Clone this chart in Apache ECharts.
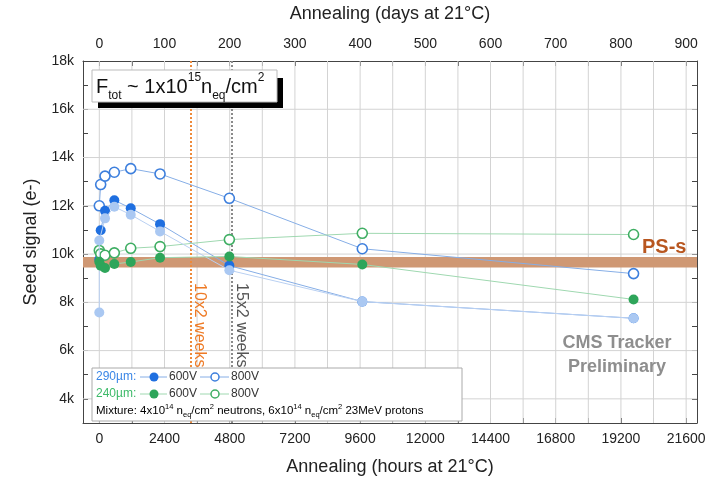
<!DOCTYPE html>
<html>
<head>
<meta charset="utf-8">
<script src="https://cdn.jsdelivr.net/npm/echarts@6/dist/echarts.min.js"></script>
<style>
html, body { margin: 0; padding: 0; background: #fff; }
#main { width: 720px; height: 481px; }
</style>
</head>
<body>
<div id="main"></div>
<script>
// annealing times (hours at 21C)
var hours = [0, 51, 210, 553, 1157, 2236, 4787, 9680, 19665];
var hoursLight = [0, 0, 210, 553, 1157, 2236, 4787, 9680, 19665];

// seed signal (e-)
var blue600 = [9770, 10990, 11790, 12230, 11900, 11240, 9520, 8030, 7340];
var blue600b = [7580, 10560, 11480, 11960, 11630, 10940, 9330, 8030, 7340];
var blue800 = [12000, 12880, 13230, 13390, 13540, 13320, 12310, 10220, 9190];
var green600 = [9680, 9520, 9420, 9590, 9670, 9850, 9900, 9570, 8120];
var green800 = [10150, 10010, 9950, 10050, 10240, 10310, 10600, 10860, 10810];

// PS-s band and reference lines
var psBand = [9440, 9880];
var weeks10 = 3360;
var weeks15 = 4870;

// ticks
var hourTicks = [0, 1200, 2400, 3600, 4800, 6000, 7200, 8400, 9600, 10800, 12000, 13200, 14400, 15600, 16800, 18000, 19200, 20400, 21600];
var hourLabels = [0, 2400, 4800, 7200, 9600, 12000, 14400, 16800, 19200, 21600];
var dayTicks = [0, 50, 100, 150, 200, 250, 300, 350, 400, 450, 500, 550, 600, 650, 700, 750, 800, 850, 900];
var dayLabels = [0, 100, 200, 300, 400, 500, 600, 700, 800, 900];
var gridLinesY = [4000, 6000, 8000, 10000, 12000, 14000, 16000];

var FONT = 'Liberation Sans, Arial, sans-serif';

function pairs(xs, ys) {
    var out = [];
    for (var i = 0; i < xs.length; i++) {
        out.push([xs[i], ys[i]]);
    }
    return out;
}

var vGrid = hourTicks.map(function (h) { return [h, 3000]; });
var hGrid = gridLinesY.map(function (v) { return [0, v]; });

// grid lines drawn by a custom series, one line per value
function gridLine(vertical) {
    return function (params, api) {
        var cs = params.coordSys;
        var p = api.coord([api.value(0), api.value(1)]);
        var shape = vertical
            ? { x1: p[0], y1: cs.y, x2: p[0], y2: cs.y + cs.height }
            : { x1: cs.x, y1: p[1], x2: cs.x + cs.width, y2: p[1] };
        return {
            type: 'line',
            shape: shape,
            style: { stroke: '#d3d3d3', lineWidth: 1 },
            silent: true
        };
    };
}

var chart = echarts.init(document.getElementById('main'));

var lineBlue = '#86aee6';
var lineGreen = '#9fd8b0';
var plain = function (v) { return String(v); };
var frame = { show: true, onZero: false, lineStyle: { color: '#444' } };

var option = {
    animation: false,
    grid: { left: 83, right: 23, top: 61, bottom: 54 },
    xAxis: [{
        type: 'value',
        min: -600,
        max: 22000,
        position: 'bottom',
        name: 'Annealing (hours at 21°C)',
        nameLocation: 'middle',
        nameGap: 35,
        nameTextStyle: { fontFamily: FONT, fontSize: 18, color: '#222' },
        axisLine: frame,
        axisTick: { show: true, inside: true, length: 5, customValues: hourTicks, lineStyle: { color: '#444' } },
        axisLabel: { customValues: hourLabels, formatter: plain, margin: 9, fontFamily: FONT, fontSize: 14, color: '#222' },
        splitLine: { show: false }
    }, {
        type: 'value',
        min: -25,
        max: 22000 / 24,
        position: 'top',
        name: 'Annealing (days at 21°C)',
        nameLocation: 'middle',
        nameGap: 38,
        nameTextStyle: { fontFamily: FONT, fontSize: 18, color: '#222' },
        axisLine: frame,
        axisTick: { show: true, inside: true, length: 5, customValues: dayTicks, lineStyle: { color: '#444' } },
        axisLabel: { customValues: dayLabels, formatter: plain, margin: 10, fontFamily: FONT, fontSize: 14, color: '#222' },
        splitLine: { show: false }
    }],
    yAxis: [{
        type: 'value',
        min: 3000,
        max: 18000,
        interval: 1000,
        position: 'left',
        name: 'Seed signal (e-)',
        nameLocation: 'middle',
        nameGap: 36,
        nameTextStyle: { fontFamily: FONT, fontSize: 18, color: '#222' },
        axisLine: frame,
        axisTick: { show: true, inside: true, length: 5, lineStyle: { color: '#444' } },
        axisLabel: {
            margin: 9, fontFamily: FONT, fontSize: 14, color: '#222',
            formatter: function (v) {
                return (v / 1000) % 2 === 0 ? (v / 1000) + 'k' : '';
            }
        },
        splitLine: { show: false }
    }, {
        type: 'value',
        min: 3000,
        max: 18000,
        interval: 1000,
        position: 'right',
        axisLine: frame,
        axisTick: { show: true, inside: true, length: 5, lineStyle: { color: '#444' } },
        axisLabel: { show: false },
        splitLine: { show: false }
    }],
    series: [{
        name: 'vgrid',
        type: 'custom',
        renderItem: gridLine(true),
        data: vGrid,
        encode: { x: 0, y: 1 },
        silent: true,
        z: 1
    }, {
        name: 'hgrid',
        type: 'custom',
        renderItem: gridLine(false),
        data: hGrid,
        encode: { x: 0, y: 1 },
        silent: true,
        z: 1
    }, {
        name: '290um 800V',
        type: 'line',
        data: pairs(hours, blue800),
        symbol: 'circle',
        symbolSize: 10,
        lineStyle: { color: lineBlue, width: 1 },
        itemStyle: { color: '#fff', borderColor: '#3d7fdd', borderWidth: 1.6 },
        z: 3,
        markArea: {
            silent: true,
            z: 2,
            itemStyle: { color: '#cf9874' },
            data: [[{ yAxis: psBand[0] }, { yAxis: psBand[1] }]]
        },
        markLine: {
            silent: true,
            z: 2.5,
            symbol: 'none',
            label: { show: false },
            data: [
                { xAxis: weeks10, lineStyle: { color: '#ee8a3a', type: [2, 2], width: 2 } },
                { xAxis: weeks15, lineStyle: { color: '#8a8a8a', type: [2, 2], width: 2 } }
            ]
        }
    }, {
        name: '290um 600V',
        type: 'line',
        data: pairs(hours, blue600),
        symbol: 'circle',
        symbolSize: 10,
        lineStyle: { color: lineBlue, width: 1 },
        itemStyle: { color: '#1f6fe0' },
        z: 3
    }, {
        name: '290um 600V b',
        type: 'line',
        data: pairs(hoursLight, blue600b),
        symbol: 'circle',
        symbolSize: 10,
        lineStyle: { color: '#b9d0f2', width: 1 },
        itemStyle: { color: '#aac8f2' },
        z: 4
    }, {
        name: '240um 800V',
        type: 'line',
        data: pairs(hours, green800),
        symbol: 'circle',
        symbolSize: 10,
        lineStyle: { color: lineGreen, width: 1 },
        itemStyle: { color: '#fff', borderColor: '#3fae63', borderWidth: 1.6 },
        z: 3
    }, {
        name: '240um 600V',
        type: 'line',
        data: pairs(hours, green600),
        symbol: 'circle',
        symbolSize: 10,
        lineStyle: { color: lineGreen, width: 1 },
        itemStyle: { color: '#2ea55a' },
        z: 5
    }],
    graphic: [
        // fluence box
        { type: 'rect', z: 50, shape: { x: 98, y: 78, width: 185, height: 30 }, style: { fill: '#000' } },
        { type: 'rect', z: 51, shape: { x: 92, y: 70, width: 185, height: 32 }, style: { fill: '#fff', stroke: '#bbb', lineWidth: 1 } },
        {
            type: 'text', z: 52, x: 96, y: 87,
            style: {
                text: '{m|F}{sub|tot}{m| ~ 1x10}{sup|15}{m|n}{sub|eq}{m|/cm}{sup|2}',
                verticalAlign: 'middle',
                fill: '#111',
                rich: {
                    m: { fontFamily: FONT, fontSize: 20, lineHeight: 30, color: '#111' },
                    sub: { fontFamily: FONT, fontSize: 12, lineHeight: 13, verticalAlign: 'bottom', color: '#111' },
                    sup: { fontFamily: FONT, fontSize: 12, lineHeight: 13, verticalAlign: 'top', color: '#111' }
                }
            }
        },
        // rotated labels on the reference lines
        { type: 'text', z: 20, x: 191, y: 283, rotation: -Math.PI / 2,
          style: { text: '10x2 weeks', fontFamily: FONT, fontSize: 16, fill: '#ee7a25', align: 'left', verticalAlign: 'bottom' } },
        { type: 'text', z: 20, x: 233, y: 283, rotation: -Math.PI / 2,
          style: { text: '15x2 weeks', fontFamily: FONT, fontSize: 16, fill: '#555', align: 'left', verticalAlign: 'bottom' } },
        // PS-s
        { type: 'text', z: 20, x: 642, y: 247,
          style: { text: 'PS-s', fontFamily: FONT, fontSize: 20, fontWeight: 'bold', fill: '#b8561f', align: 'left', verticalAlign: 'middle' } },
        // CMS label
        { type: 'text', z: 20, x: 617, y: 343,
          style: { text: 'CMS Tracker', fontFamily: FONT, fontSize: 18, fontWeight: 'bold', fill: '#8e8e8e', align: 'center', verticalAlign: 'middle' } },
        { type: 'text', z: 20, x: 617, y: 367,
          style: { text: 'Preliminary', fontFamily: FONT, fontSize: 18, fontWeight: 'bold', fill: '#8e8e8e', align: 'center', verticalAlign: 'middle' } },
        // legend
        { type: 'rect', z: 60, shape: { x: 92, y: 368, width: 370, height: 53 }, style: { fill: '#fff', stroke: '#aaa', lineWidth: 1 } },
        { type: 'text', z: 61, x: 96, y: 377, style: { text: '290µm:', fontFamily: FONT, fontSize: 12, fill: '#3a86e6', verticalAlign: 'middle' } },
        { type: 'line', z: 61, shape: { x1: 140, y1: 377, x2: 167, y2: 377 }, style: { stroke: lineBlue, lineWidth: 1 } },
        { type: 'circle', z: 62, shape: { cx: 154, cy: 377, r: 4.5 }, style: { fill: '#1f6fe0' } },
        { type: 'text', z: 61, x: 169, y: 377, style: { text: '600V', fontFamily: FONT, fontSize: 12, fill: '#333', verticalAlign: 'middle' } },
        { type: 'line', z: 61, shape: { x1: 200, y1: 377, x2: 229, y2: 377 }, style: { stroke: lineBlue, lineWidth: 1 } },
        { type: 'circle', z: 62, shape: { cx: 215, cy: 377, r: 4 }, style: { fill: '#fff', stroke: '#3d7fdd', lineWidth: 1.5 } },
        { type: 'text', z: 61, x: 231, y: 377, style: { text: '800V', fontFamily: FONT, fontSize: 12, fill: '#333', verticalAlign: 'middle' } },
        { type: 'text', z: 61, x: 96, y: 394, style: { text: '240µm:', fontFamily: FONT, fontSize: 12, fill: '#3dba69', verticalAlign: 'middle' } },
        { type: 'line', z: 61, shape: { x1: 140, y1: 394, x2: 167, y2: 394 }, style: { stroke: lineGreen, lineWidth: 1 } },
        { type: 'circle', z: 62, shape: { cx: 154, cy: 394, r: 4.5 }, style: { fill: '#2ea55a' } },
        { type: 'text', z: 61, x: 169, y: 394, style: { text: '600V', fontFamily: FONT, fontSize: 12, fill: '#333', verticalAlign: 'middle' } },
        { type: 'line', z: 61, shape: { x1: 200, y1: 394, x2: 229, y2: 394 }, style: { stroke: lineGreen, lineWidth: 1 } },
        { type: 'circle', z: 62, shape: { cx: 215, cy: 394, r: 4 }, style: { fill: '#fff', stroke: '#3fae63', lineWidth: 1.5 } },
        { type: 'text', z: 61, x: 231, y: 394, style: { text: '800V', fontFamily: FONT, fontSize: 12, fill: '#333', verticalAlign: 'middle' } },
        {
            type: 'text', z: 61, x: 96, y: 411,
            style: {
                text: '{m|Mixture: 4x10}{sup|14}{m| n}{sub|eq}{m|/cm}{sup|2}{m| neutrons, 6x10}{sup|14}{m| n}{sub|eq}{m|/cm}{sup|2}{m| 23MeV protons}',
                verticalAlign: 'middle',
                rich: {
                    m: { fontFamily: FONT, fontSize: 11.5, lineHeight: 16, color: '#333' },
                    sub: { fontFamily: FONT, fontSize: 7.5, lineHeight: 8, verticalAlign: 'bottom', color: '#333' },
                    sup: { fontFamily: FONT, fontSize: 7.5, lineHeight: 8, verticalAlign: 'top', color: '#333' }
                }
            }
        }
    ]
};

chart.setOption(option);
</script>
</body>
</html>
